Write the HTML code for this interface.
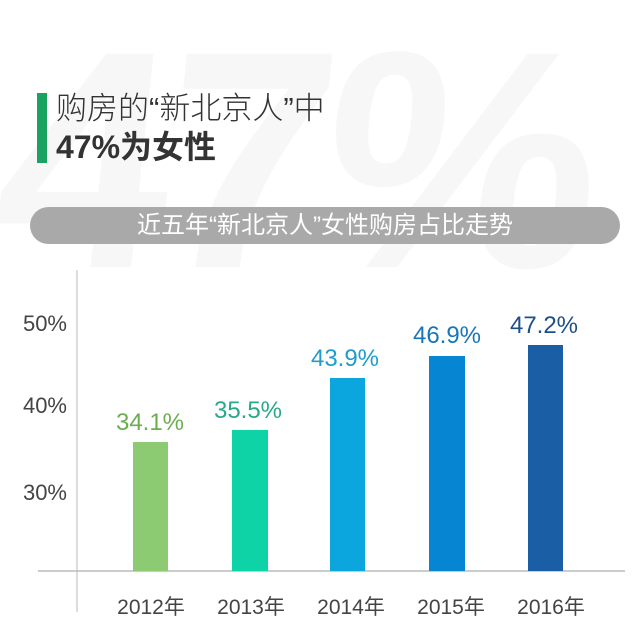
<!DOCTYPE html>
<html><head><meta charset="utf-8"><style>
body{margin:0;width:640px;height:640px;background:#fff;overflow:hidden;position:relative;font-family:"Liberation Sans","Noto Sans CJK SC",sans-serif}
.a{position:absolute;white-space:nowrap}
</style></head><body>
<div class="a" style="left:0px;top:5px;font-size:310px;font-weight:bold;color:#f7f7f7;letter-spacing:-10px;line-height:310px;transform:skewX(-6deg)">47%</div>
<div class="a" style="left:37px;top:93px;width:10px;height:70px;background:#1aa260"></div>
<div class="a" style="left:56px;top:89px;font-size:31px;color:#333;font-weight:300;line-height:40px">购房的“新北京人”中</div>
<div class="a" style="left:56px;top:127px;font-size:32px;color:#333;font-weight:bold;line-height:40px">47%为女性</div>
<div class="a" style="left:30px;top:207px;width:590px;height:37px;border-radius:19px;background:#a9a9a9;color:#fff;font-size:24px;line-height:37px;text-align:center">近五年“新北京人”女性购房占比走势</div>
<svg class="a" style="left:0;top:0" width="640" height="640">
<g font-family="Liberation Sans, Noto Sans CJK SC, sans-serif">
<line x1="77" y1="270" x2="77" y2="612" stroke="#bbb" stroke-width="1"/>
<line x1="38" y1="571" x2="625" y2="571" stroke="#bbb" stroke-width="1.5"/>
<g font-size="22" fill="#444" text-anchor="end">
<text x="67" y="331">50%</text><text x="67" y="413">40%</text><text x="67" y="500">30%</text></g>
<rect x="133" y="442" width="35" height="129" fill="#8dcb72"/>
<rect x="232" y="430" width="36" height="141" fill="#0ed3a6"/>
<rect x="330" y="378" width="35" height="193" fill="#0aa6dd"/>
<rect x="429" y="356" width="36" height="215" fill="#0685d3"/>
<rect x="528" y="345" width="35" height="226" fill="#1a5ea6"/>
<g font-size="24" text-anchor="middle">
<text x="150" y="430" fill="#6aae50">34.1%</text>
<text x="248" y="418" fill="#27a98a">35.5%</text>
<text x="345" y="366" fill="#1f9ccc">43.9%</text>
<text x="447" y="343" fill="#1976b8">46.9%</text>
<text x="544" y="333" fill="#1d4f8a">47.2%</text></g>
<g font-size="21" fill="#444" text-anchor="middle">
<text x="151" y="614">2012年</text><text x="251" y="614">2013年</text><text x="351" y="614">2014年</text><text x="451" y="614">2015年</text><text x="551" y="614">2016年</text></g>
</g></svg>
</body></html>
